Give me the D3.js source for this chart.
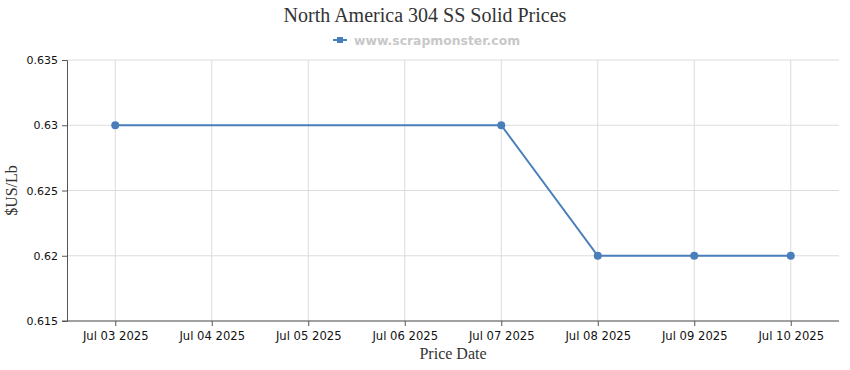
<!DOCTYPE html>
<html>
<head>
<meta charset="utf-8">
<script src="https://cdn.jsdelivr.net/npm/d3@7"></script>
<style>
  body { margin: 0; background: #fff; }
</style>
</head>
<body>
<div id="chart"></div>
<script>
// category axis: every day shown, prices only on trading days
const dates = ["Jul 03 2025", "Jul 04 2025", "Jul 05 2025", "Jul 06 2025",
               "Jul 07 2025", "Jul 08 2025", "Jul 09 2025", "Jul 10 2025"];
const priceDates = ["Jul 03 2025", "Jul 07 2025", "Jul 08 2025", "Jul 09 2025", "Jul 10 2025"];
const prices = [0.63, 0.63, 0.62, 0.62, 0.62];
const yTicks = [0.615, 0.62, 0.625, 0.63, 0.635];

const width = 850;
const height = 370;
const margin = { top: 60, right: 11, bottom: 49, left: 67 };
const lineColor = "#4a7ebb";

const svg = d3.select("#chart")
  .append("svg")
  .attr("width", width)
  .attr("height", height);

const x = d3.scalePoint()
  .domain(dates)
  .range([margin.left, width - margin.right])
  .padding(0.5);

const y = d3.scaleLinear()
  .domain([0.615, 0.635])
  .range([height - margin.bottom, margin.top]);

// grid lines
svg.append("g")
  .selectAll("line")
  .data(yTicks)
  .join("line")
  .attr("x1", margin.left)
  .attr("x2", width - margin.right)
  .attr("y1", d => y(d))
  .attr("y2", d => y(d))
  .attr("stroke", "#dcdcdc");

svg.append("g")
  .selectAll("line")
  .data(dates)
  .join("line")
  .attr("x1", d => x(d))
  .attr("x2", d => x(d))
  .attr("y1", margin.top)
  .attr("y2", height - margin.bottom)
  .attr("stroke", "#dcdcdc");

// axes
const xAxis = svg.append("g")
  .attr("transform", `translate(0, ${height - margin.bottom})`)
  .call(d3.axisBottom(x).tickSizeOuter(0).tickSize(5).tickPadding(6));

xAxis.select(".domain").attr("d", `M${margin.left - 5},0H${width - margin.right}`);

const yAxis = svg.append("g")
  .attr("transform", `translate(${margin.left}, 0)`)
  .call(d3.axisLeft(y).tickValues(yTicks).tickFormat(d => +d.toFixed(3)).tickSizeOuter(0).tickSize(5).tickPadding(4));

[xAxis, yAxis].forEach(g => {
  g.select(".domain").attr("stroke", "#555");
  g.selectAll(".tick line").attr("stroke", "#555");
  g.selectAll(".tick text")
    .attr("fill", "#111")
    .attr("font-family", "'DejaVu Sans', sans-serif")
    .attr("font-size", "11px");
});
xAxis.selectAll(".tick text").attr("font-size", "11.6px");

// line + points
const points = priceDates.map((d, i) => ({ date: d, price: prices[i] }));

svg.append("path")
  .datum(points)
  .attr("fill", "none")
  .attr("stroke", lineColor)
  .attr("stroke-width", 2)
  .attr("d", d3.line().x(d => x(d.date)).y(d => y(d.price)));

svg.append("g")
  .selectAll("circle")
  .data(points)
  .join("circle")
  .attr("cx", d => x(d.date))
  .attr("cy", d => y(d.price))
  .attr("r", 4)
  .attr("fill", lineColor);

// title
svg.append("text")
  .attr("x", width / 2)
  .attr("y", 22)
  .attr("text-anchor", "middle")
  .attr("font-family", "'Liberation Serif', serif")
  .attr("font-size", "20px")
  .attr("fill", "#333")
  .text("North America 304 SS Solid Prices");

// legend
svg.append("line")
  .attr("x1", 333).attr("x2", 347)
  .attr("y1", 40).attr("y2", 40)
  .attr("stroke", lineColor)
  .attr("stroke-width", 2);
svg.append("rect")
  .attr("x", 337).attr("y", 37)
  .attr("width", 6).attr("height", 6)
  .attr("fill", lineColor);
svg.append("text")
  .attr("x", 354)
  .attr("y", 44.5)
  .attr("font-family", "'DejaVu Sans', sans-serif")
  .attr("font-size", "12.4px")
  .attr("font-weight", "bold")
  .attr("fill", "#c8c8c8")
  .text("www.scrapmonster.com");

// axis titles
svg.append("text")
  .attr("x", (margin.left + width - margin.right) / 2)
  .attr("y", 359)
  .attr("text-anchor", "middle")
  .attr("font-family", "'Liberation Serif', serif")
  .attr("font-size", "16px")
  .attr("fill", "#333")
  .text("Price Date");

svg.append("text")
  .attr("transform", `translate(17, ${(margin.top + height - margin.bottom) / 2}) rotate(-90)`)
  .attr("text-anchor", "middle")
  .attr("font-family", "'Liberation Serif', serif")
  .attr("font-size", "16px")
  .attr("fill", "#333")
  .text("$US/Lb");
</script>
</body>
</html>
